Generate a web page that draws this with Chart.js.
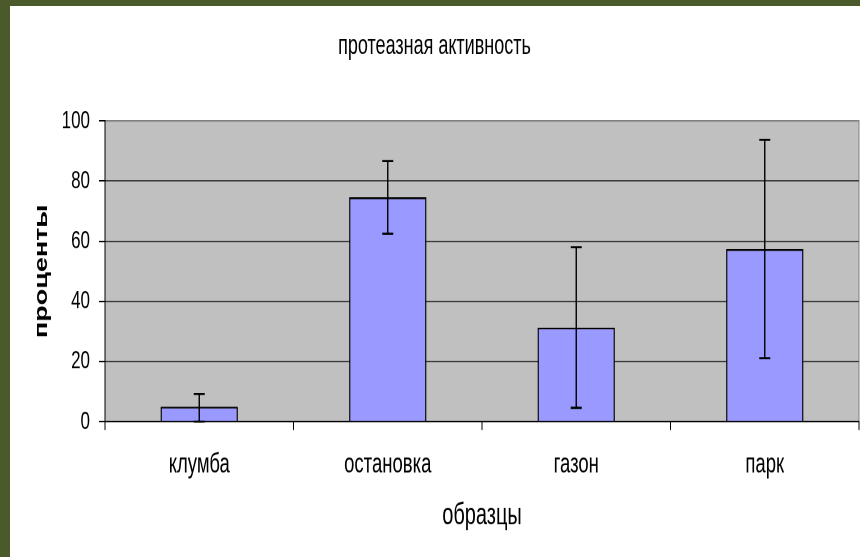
<!DOCTYPE html>
<html>
<head>
<meta charset="utf-8">
<script src="https://cdn.jsdelivr.net/npm/chart.js@4/dist/chart.umd.min.js"></script>
<style>
  html, body { margin: 0; padding: 0; }
  body { width: 860px; height: 557px; background: #4a5a2b; position: relative; overflow: hidden; }
  #sheet { position: absolute; left: 10px; top: 6px; width: 850px; height: 551px; background: #fff; }
  #box { width: 850px; height: 367.333px; transform: scaleY(1.5); transform-origin: 0 0; }
</style>
</head>
<body>
<div id="sheet"><div id="box"><canvas id="chart"></canvas></div></div>
<script>
const categories = ["клумба", "остановка", "газон", "парк"];
const values = [5.0, 74.6, 31.3, 57.4];
const errPlus = [4.2, 12.1, 26.7, 36.3];
const errMinus = [5.0, 12.1, 26.7, 36.3];
const yMin = 0, yMax = 100, yStep = 20;

const FONT = "'Liberation Sans', Arial, sans-serif";

// серый фон области построения
const plotBg = {
  id: "plotBg",
  beforeDraw(chart) {
    const { ctx, chartArea: a } = chart;
    ctx.save();
    ctx.fillStyle = "#c0c0c0";
    ctx.fillRect(a.left, a.top, a.right - a.left, a.bottom - a.top);
    ctx.strokeStyle = "#808080";
    ctx.lineWidth = 1;
    ctx.strokeRect(a.left, a.top, a.right - a.left, a.bottom - a.top);
    ctx.restore();
  }
};

// планки погрешностей
const errorBars = {
  id: "errorBars",
  afterDatasetsDraw(chart) {
    const { ctx } = chart;
    const y = chart.scales.y;
    const meta = chart.getDatasetMeta(0);
    ctx.save();
    ctx.strokeStyle = "#000";
    ctx.lineWidth = 1.4;
    meta.data.forEach((bar, i) => {
      const top = y.getPixelForValue(values[i] + errPlus[i]);
      const bot = y.getPixelForValue(Math.max(values[i] - errMinus[i], yMin));
      const x = bar.x;
      ctx.beginPath();
      ctx.moveTo(x, top); ctx.lineTo(x, bot);
      ctx.moveTo(x - 5.5, top); ctx.lineTo(x + 5.5, top);
      ctx.moveTo(x - 5.5, bot); ctx.lineTo(x + 5.5, bot);
      ctx.stroke();
    });
    ctx.restore();
  }
};

new Chart(document.getElementById("chart"), {
  type: "bar",
  data: {
    labels: categories,
    datasets: [{
      data: values,
      backgroundColor: "#9999ff",
      borderColor: "#000",
      borderWidth: 1.3,
      categoryPercentage: 1,
      barPercentage: 0.41
    }]
  },
  options: {
    responsive: true,
    maintainAspectRatio: false,
    animation: false,
    devicePixelRatio: 2,
    layout: { padding: { left: 0, right: 1, top: 0, bottom: 0 } },
    plugins: {
      legend: { display: false },
      tooltip: { enabled: false },
      title: {
        display: true,
        text: "протеазная активность",
        color: "#000",
        font: { family: FONT, size: 18, weight: "normal" },
        padding: { top: 16, bottom: 39 }
      }
    },
    scales: {
      x: {
        grid: { offset: true, drawOnChartArea: false, tickLength: 5.5, color: "#000" },
        border: { color: "#000", width: 1 },
        ticks: { color: "#000", padding: 12.3, font: { family: FONT, size: 18.5 } },
        title: {
          display: true,
          text: "образцы",
          color: "#000",
          font: { family: FONT, size: 20 },
          padding: { top: 0, bottom: 15.5 }
        },
        afterFit(scale) { scale.height = 90.2; }
      },
      y: {
        min: yMin,
        max: yMax,
        ticks: { stepSize: yStep, color: "#000", padding: 9, font: { family: FONT, size: 17 } },
        grid: {
          tickLength: 6,
          tickColor: "#000",
          color: (c) => (c.tick && c.tick.value === yMax ? "#808080" : "#3a3a3a"),
          lineWidth: 1
        },
        border: { color: "#000", width: 1 },
        title: {
          display: true,
          text: "проценты",
          color: "#000",
          font: { family: FONT, size: 18, weight: "bold" },
          padding: { top: 21, bottom: 0 }
        },
        afterFit(scale) { scale.width = 95; }
      }
    }
  },
  plugins: [plotBg, errorBars]
});
</script>
</body>
</html>
